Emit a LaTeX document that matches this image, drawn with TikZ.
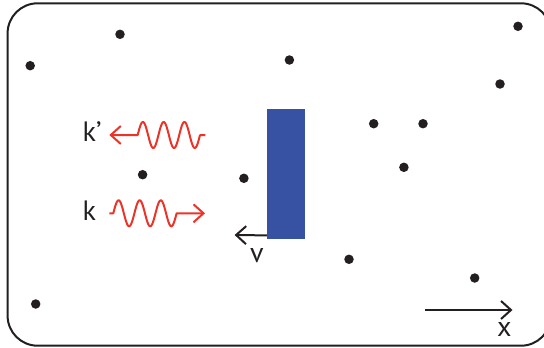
\documentclass[tikz,border=0pt]{standalone}
\usepackage{fontspec}
\setmainfont{PT Sans}
\usetikzlibrary{arrows.meta}
\definecolor{ink}{RGB}{35,31,32}
\definecolor{wavered}{RGB}{237,50,39}
\definecolor{barblue}{RGB}{56,82,163}
\tikzset{
  frame/.style={draw=ink, line width=2pt, rounded corners=30pt},
  particle/.style={circle, fill=ink, minimum size=9.5pt, inner sep=0pt},
  barb/.style={-{Straight Barb[length=10pt,width=18pt]}},
  wave/.style={draw=wavered, line width=2pt, line join=round},
  vec/.style={draw=ink, line width=2pt},
  lbl/.style={font=\fontsize{28}{30}\selectfont, text=ink, inner sep=0pt, anchor=base west},
}
\begin{document}
\begin{tikzpicture}[x=1pt, y=-1pt]
\useasboundingbox (0,0) rectangle (544,348);
\path[frame] (7.6,3.3) rectangle (551,345.7);
% particles
\foreach \n/\px/\py in {a/120/34.3, b/30.2/65.7, c/289.4/60, d/518/26.3, e/500/84,
  f/373.7/123.7, g/423/123.7, h/403.9/167.3, i/142.6/174.7, j/243.9/178.3,
  l/349/259.3, m/474.7/278, n/35.7/304}
  \node[particle] (p\n) at (\px,\py) {};
% moving bar
\node[fill=barblue, minimum width=38.2pt, minimum height=130.7pt, inner sep=0pt, anchor=north west] (bar) at (266.8,108.3) {};
% velocity
\coordinate (vtip) at (234.6,235);
\draw[vec, barb] ([yshift=4pt]bar.south west) -- (vtip);
\node[lbl] (vlab) at (250,262.7) {v};
% reflected wave k'
\coordinate (kpstart) at (205.4,135);
\coordinate (kpend) at (109.3,135);
\draw[wave, barb] (kpstart) -- (200,135)
  -- plot[domain=1080:0, samples=120, variable=\t] ({137.7+\t/360*20.77},{135-13*sin(\t)})
  -- (kpend);
\node[lbl] (kplab) at (82.5,141.7) {k’};
% incident wave k
\coordinate (kstart) at (109.3,213.3);
\coordinate (kend) at (205,213.3);
\draw[wave, barb] (kstart) -- (113.3,213.3)
  -- plot[domain=0:1080, samples=120, variable=\t] ({113.3+\t/360*21.1},{213.3-13*sin(\t)})
  -- (kend);
\node[lbl] (klab) at (82.5,220) {k};
% x axis
\coordinate (xs) at (425,310);
\coordinate (xe) at (512.5,310);
\draw[vec, barb] (xs) -- (xe);
\node[lbl] (xlab) at (497,336.7) {x};
\end{tikzpicture}
\end{document}
